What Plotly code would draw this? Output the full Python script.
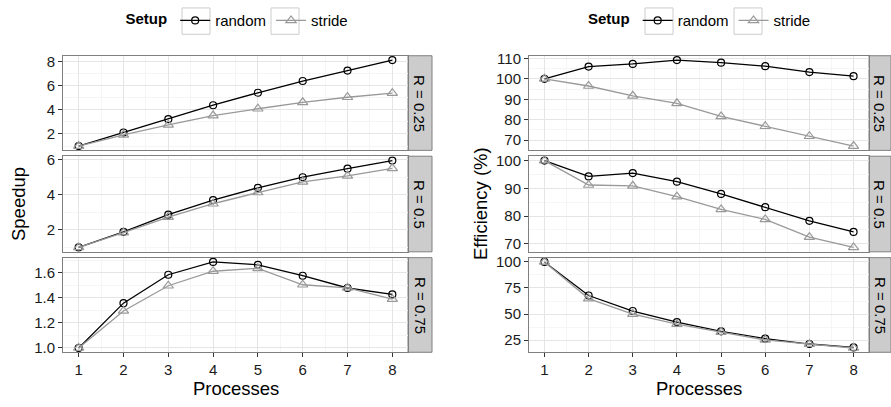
import plotly.graph_objects as go

# ---------------- data ----------------
procs = [1, 2, 3, 4, 5, 6, 7, 8]
r_labels = ["R = 0.25", "R = 0.5", "R = 0.75"]
setups = ["random", "stride"]

speedup_random_025 = [1.0, 2.12, 3.22, 4.37, 5.40, 6.37, 7.23, 8.10]
speedup_stride_025 = [1.0, 1.93, 2.75, 3.52, 4.08, 4.61, 5.03, 5.37]
speedup_random_05 = [1.0, 1.89, 2.87, 3.70, 4.40, 5.00, 5.49, 5.95]
speedup_stride_05 = [1.0, 1.84, 2.73, 3.49, 4.13, 4.74, 5.08, 5.51]
speedup_random_075 = [1.0, 1.358, 1.585, 1.687, 1.664, 1.577, 1.479, 1.428]
speedup_stride_075 = [1.0, 1.296, 1.497, 1.613, 1.636, 1.505, 1.480, 1.390]

eff_random_025 = [100.0, 106.0, 107.3, 109.2, 107.9, 106.2, 103.3, 101.3]
eff_stride_025 = [100.0, 96.5, 91.7, 88.0, 81.6, 76.8, 71.9, 67.1]
eff_random_05 = [100.0, 94.3, 95.5, 92.4, 88.0, 83.2, 78.3, 74.3]
eff_stride_05 = [100.0, 91.2, 90.9, 87.0, 82.4, 78.8, 72.4, 68.7]
eff_random_075 = [100.0, 67.8, 52.9, 42.3, 33.4, 26.4, 21.2, 17.9]
eff_stride_075 = [100.0, 64.8, 50.0, 40.3, 32.7, 25.1, 21.1, 17.4]

speedup = [
    (speedup_random_025, speedup_stride_025),
    (speedup_random_05, speedup_stride_05),
    (speedup_random_075, speedup_stride_075),
]
efficiency = [
    (eff_random_025, eff_stride_025),
    (eff_random_05, eff_stride_05),
    (eff_random_075, eff_stride_075),
]

# tick settings per panel: (dtick, minor dtick, format)
speed_ticks = [(2, 1, "d"), (2, 1, "d"), (0.2, 0.1, ".1f")]
eff_ticks = [(10, 5, "d"), (10, 5, "d"), (25, 12.5, "d")]

# ---------------- layout geometry ----------------
W, H = 891, 407
FONT = "Liberation Sans, Arial, Helvetica, sans-serif"
TICK = 15
row_px = [(51, 148), (154, 252), (258, 355)]
col_px = [(63, 408, 432), (529, 869, 891)]  # panel left, panel right/strip left, strip right
legend_centers = [238.5, 701]
key_boxes = [[(182, 210), (271, 299)], [(645, 673), (734, 762)]]  # legend key frames (px)


def fx(p):
    return p / W


def fy(p):
    return 1 - p / H


colors = {"random": "#000000", "stride": "#999999"}
symbols = {"random": "circle-open", "stride": "triangle-up-open"}
msize = {"random": 7, "stride": 9}

fig = go.Figure()
layout = dict(
    width=W, height=H,
    margin=dict(l=0, r=0, t=0, b=0),
    paper_bgcolor="white", plot_bgcolor="white",
    font=dict(family=FONT, size=TICK, color="#1a1a1a"),
    showlegend=True,
)
shapes = []
annotations = []

datasets = [speedup, efficiency]
ticksets = [speed_ticks, eff_ticks]
legend_names = ["legend", "legend2"]

for c in range(2):
    for r in range(3):
        idx = c * 3 + r + 1
        xa = "x" if idx == 1 else f"x{idx}"
        ya = "y" if idx == 1 else f"y{idx}"
        for s, name in enumerate(setups):
            vals = datasets[c][r][s]
            fig.add_trace(go.Scatter(
                x=procs, y=vals, xaxis=xa, yaxis=ya, name=name,
                mode="lines+markers",
                line=dict(color=colors[name], width=1.3),
                marker=dict(symbol=symbols[name], size=msize[name],
                            color=colors[name], line=dict(width=1.2, color=colors[name])),
                legend=legend_names[c],
                showlegend=(r == 0),
            ))
        allv = list(datasets[c][r][0]) + list(datasets[c][r][1])
        lo, hi = min(allv), max(allv)
        pad = 0.05 * (hi - lo)
        dt, mdt, fmt = ticksets[c][r]
        px0, px1, sx1 = col_px[c]
        top, bot = row_px[r]
        xkey = "xaxis" if idx == 1 else f"xaxis{idx}"
        ykey = "yaxis" if idx == 1 else f"yaxis{idx}"
        layout[xkey] = dict(
            domain=[fx(px0), fx(px1)], anchor=ya, range=[0.65, 8.35],
            tick0=1, dtick=1, showticklabels=(r == 2),
            ticks="outside" if r == 2 else "", ticklen=4, tickcolor="#333333",
            showgrid=True, gridcolor="#E5E5E5", gridwidth=1,
            minor=dict(dtick=0.5, tick0=0.5, showgrid=True, gridcolor="#F5F5F5", ticks=""),
            showline=True, mirror=True, linecolor="#7F7F7F", linewidth=1,
            zeroline=False, tickfont=dict(size=TICK, color="#1a1a1a"),
        )
        layout[ykey] = dict(
            domain=[fy(bot), fy(top)], anchor=xa, range=[lo - pad, hi + pad],
            tick0=0, dtick=dt, tickformat=fmt,
            ticks="outside", ticklen=4, tickcolor="#333333",
            showgrid=True, gridcolor="#E5E5E5", gridwidth=1,
            minor=dict(dtick=mdt, tick0=0, showgrid=True, gridcolor="#F5F5F5", ticks=""),
            showline=True, mirror=True, linecolor="#7F7F7F", linewidth=1,
            zeroline=False, tickfont=dict(size=TICK, color="#1a1a1a"),
        )
        # strip
        shapes.append(dict(type="rect", xref="paper", yref="paper",
                           x0=fx(px1), x1=fx(sx1), y0=fy(bot), y1=fy(top),
                           fillcolor="#CCCCCC", line=dict(color="#7F7F7F", width=1),
                           layer="below"))
        annotations.append(dict(xref="paper", yref="paper",
                                x=fx((px1 + sx1) / 2), y=fy((top + bot) / 2),
                                text=r_labels[r], textangle=90, showarrow=False,
                                font=dict(size=15, color="#000000"),
                                xanchor="center", yanchor="middle"))

# legend key frames
for c in range(2):
    for (b0, b1) in key_boxes[c]:
        shapes.append(dict(type="rect", xref="paper", yref="paper",
                           x0=fx(b0), x1=fx(b1), y0=fy(29), y1=fy(2),
                           fillcolor="white", line=dict(color="#CCCCCC", width=1),
                           layer="below"))

# axis titles
titles = [("Speedup", 18), ("Efficiency (%)", 480)]
for c, (t, xp) in enumerate(titles):
    annotations.append(dict(xref="paper", yref="paper", x=fx(xp), y=fy(203),
                            text=t, textangle=-90, showarrow=False,
                            font=dict(size=18.5, color="#000000"),
                            xanchor="center", yanchor="middle"))
    px0, px1, _ = col_px[c]
    annotations.append(dict(xref="paper", yref="paper", x=fx((px0 + px1) / 2), y=fy(392),
                            text="Processes", showarrow=False,
                            font=dict(size=18.5, color="#000000"),
                            xanchor="center", yanchor="middle"))

for c, ln in enumerate(legend_names):
    layout[ln] = dict(
        orientation="h", x=fx(legend_centers[c]), xanchor="center",
        y=fy(15), yanchor="middle",
        title=dict(text="<b>Setup</b>", side="left", font=dict(size=15, color="#000000")),
        font=dict(size=15, color="#000000"),
        itemwidth=30, bgcolor="rgba(0,0,0,0)", tracegroupgap=0,
    )

layout["shapes"] = shapes
layout["annotations"] = annotations
fig.update_layout(**layout)
fig.write_html("out.html")
